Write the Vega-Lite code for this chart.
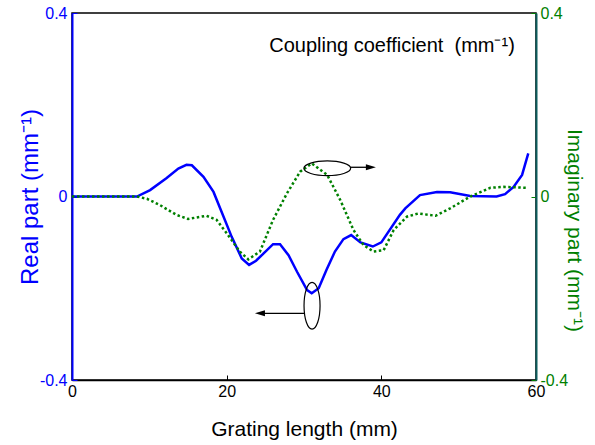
{
  "$schema": "https://vega.github.io/schema/vega-lite/v6.json",
  "width": 464,
  "height": 367,
  "autosize": "none",
  "padding": {"left": 72, "top": 13, "right": 59, "bottom": 65},
  "config": {
    "font": "Liberation Sans",
    "view": {"stroke": "black", "strokeWidth": 1.5},
    "axis": {"grid": false, "labelFont": "Liberation Sans", "titleFont": "Liberation Sans", "titleFontWeight": "normal", "labelFlush": false}
  },
  "datasets": {
    "real": [
      {"x": 0, "y": 0}, {"x": 8.4, "y": 0}, {"x": 10.1, "y": 0.014}, {"x": 12.2, "y": 0.04},
      {"x": 13.75, "y": 0.061}, {"x": 14.8, "y": 0.069}, {"x": 15.5, "y": 0.068}, {"x": 17, "y": 0.043},
      {"x": 18.3, "y": 0.01}, {"x": 19.6, "y": -0.044}, {"x": 20.65, "y": -0.088}, {"x": 21.95, "y": -0.135},
      {"x": 22.9, "y": -0.149}, {"x": 23.8, "y": -0.14}, {"x": 26, "y": -0.104}, {"x": 26.9, "y": -0.104},
      {"x": 28, "y": -0.128}, {"x": 29.1, "y": -0.164}, {"x": 30.4, "y": -0.204}, {"x": 31, "y": -0.211},
      {"x": 31.9, "y": -0.2}, {"x": 32.9, "y": -0.16}, {"x": 34, "y": -0.12}, {"x": 35.1, "y": -0.093},
      {"x": 36.1, "y": -0.084}, {"x": 37.3, "y": -0.1}, {"x": 38.9, "y": -0.109}, {"x": 40, "y": -0.1},
      {"x": 42.4, "y": -0.04}, {"x": 43.1, "y": -0.026}, {"x": 45, "y": 0.003}, {"x": 47.2, "y": 0.01},
      {"x": 48.9, "y": 0.009}, {"x": 51.5, "y": 0.001}, {"x": 54.9, "y": 0}, {"x": 56, "y": 0.005},
      {"x": 57.1, "y": 0.021}, {"x": 58.2, "y": 0.047}, {"x": 59, "y": 0.094}
    ],
    "imag": [
      {"x": 0, "y": 0}, {"x": 8.4, "y": 0}, {"x": 9.7, "y": -0.005}, {"x": 11.4, "y": -0.019},
      {"x": 13.5, "y": -0.04}, {"x": 15, "y": -0.049}, {"x": 16, "y": -0.046}, {"x": 17.4, "y": -0.042},
      {"x": 18.7, "y": -0.051}, {"x": 20, "y": -0.08}, {"x": 21.7, "y": -0.12}, {"x": 22.8, "y": -0.137},
      {"x": 24.3, "y": -0.12}, {"x": 26, "y": -0.051}, {"x": 27.8, "y": 0.007}, {"x": 29.5, "y": 0.054},
      {"x": 31, "y": 0.072}, {"x": 33, "y": 0.047}, {"x": 34.7, "y": -0.008}, {"x": 36.4, "y": -0.073},
      {"x": 37.7, "y": -0.106}, {"x": 39, "y": -0.12}, {"x": 40.3, "y": -0.117}, {"x": 41.6, "y": -0.073},
      {"x": 43.3, "y": -0.044}, {"x": 44.8, "y": -0.037}, {"x": 47, "y": -0.042}, {"x": 48.9, "y": -0.026},
      {"x": 51.5, "y": 0}, {"x": 54.1, "y": 0.019}, {"x": 55.8, "y": 0.021}, {"x": 58.8, "y": 0.019}
    ]
  },
  "encoding": {
    "x": {
      "field": "x", "type": "quantitative",
      "scale": {"domain": [0, 60], "nice": false, "zero": false},
      "axis": {
        "values": [0, 20, 40, 60], "format": "d",
        "title": "Grating length (mm)", "titleFontSize": 21, "titleColor": "black", "titlePadding": 19,
        "labelFontSize": 16, "labelColor": "black", "labelPadding": 8,
        "domainColor": "black", "domainWidth": 1.5,
        "tickColor": "black", "tickSize": -5, "tickWidth": 1
      }
    }
  },
  "layer": [
    {
      "data": {"name": "real"},
      "mark": {"type": "line", "color": "#0000ff", "strokeWidth": 2.5},
      "encoding": {
        "y": {
          "field": "y", "type": "quantitative",
          "scale": {"domain": [-0.4, 0.4], "nice": false, "zero": false},
          "axis": {
            "orient": "left", "values": [-0.4, 0, 0.4],
            "labelExpr": "datum.value === 0 ? '0' : (datum.value < 0 ? '-' : '') + format(abs(datum.value), '.1f')",
            "title": "Real part (mm⁻¹)", "titleColor": "#0000ff", "titleFontSize": 24, "titlePadding": -3,
            "labelColor": "#0000ff", "labelFontSize": 16, "labelPadding": 10,
            "domainColor": "#0000ff", "domainWidth": 2,
            "tickColor": "#0000ff", "tickSize": -5
          }
        }
      }
    },
    {
      "data": {"name": "imag"},
      "mark": {"type": "line", "color": "#008000", "strokeWidth": 2.5, "strokeDash": [2.5, 2.5]},
      "encoding": {
        "y": {
          "field": "y", "type": "quantitative",
          "scale": {"domain": [-0.4, 0.4], "nice": false, "zero": false},
          "axis": {
            "orient": "right", "values": [-0.4, 0, 0.4],
            "labelExpr": "datum.value === 0 ? '0' : (datum.value < 0 ? '-' : '') + format(abs(datum.value), '.1f')",
            "title": "Imaginary part (mm⁻¹)", "titleColor": "#008000", "titleFontSize": 21, "titlePadding": -4, "titleY": 217,
            "labelColor": "#008000", "labelFontSize": 16, "labelPadding": 9,
            "domainColor": "#0d5c5c", "domainWidth": 2,
            "tickColor": "#008000", "tickSize": -5
          }
        }
      }
    },
    {
      "data": {"values": [{"x": 33.01, "y": 0.0615}]},
      "mark": {"type": "point", "shape": "M-1,0A1,0.315,0,1,1,1,0A1,0.315,0,1,1,-1,0Z", "size": 2181, "filled": false, "stroke": "black", "strokeWidth": 1.2, "opacity": 1},
      "encoding": {"y": {"field": "y", "type": "quantitative", "scale": {"domain": [-0.4, 0.4], "nice": false, "zero": false}, "axis": null}}
    },
    {
      "data": {"values": [{"x": 31.04, "y": -0.238}]},
      "mark": {"type": "point", "shape": "M0,-1A0.343,1,0,1,1,0,1A0.343,1,0,1,1,0,-1Z", "size": 2181, "filled": false, "stroke": "black", "strokeWidth": 1.2, "opacity": 1},
      "encoding": {"y": {"field": "y", "type": "quantitative", "scale": {"domain": [-0.4, 0.4], "nice": false, "zero": false}, "axis": null}}
    },
    {
      "data": {"values": [{"x": 36.04, "x2": 38.7, "y": 0.0637}, {"x": 30.0, "x2": 24.3, "y": -0.2546}]},
      "mark": {"type": "rule", "color": "black", "strokeWidth": 1.3},
      "encoding": {
        "x2": {"field": "x2"},
        "y": {"field": "y", "type": "quantitative", "scale": {"domain": [-0.4, 0.4], "nice": false, "zero": false}, "axis": null}
      }
    },
    {
      "data": {"values": [{"x": 38.65, "y": 0.0637}]},
      "mark": {"type": "point", "shape": "M-1,-0.6L1,0L-1,0.6Z", "size": 100, "filled": true, "color": "black", "opacity": 1},
      "encoding": {"y": {"field": "y", "type": "quantitative", "scale": {"domain": [-0.4, 0.4], "nice": false, "zero": false}, "axis": null}}
    },
    {
      "data": {"values": [{"x": 24.3, "y": -0.2546}]},
      "mark": {"type": "point", "shape": "M1,-0.6L-1,0L1,0.6Z", "size": 100, "filled": true, "color": "black", "opacity": 1},
      "encoding": {"y": {"field": "y", "type": "quantitative", "scale": {"domain": [-0.4, 0.4], "nice": false, "zero": false}, "axis": null}}
    },
    {
      "data": {"values": [{"x": 25.5, "y": 0.316, "label": "Coupling coefficient \u00a0(mm⁻¹)"}]},
      "mark": {"type": "text", "align": "left", "baseline": "alphabetic", "fontSize": 20, "font": "Liberation Sans", "color": "black"},
      "encoding": {
        "text": {"field": "label"},
        "y": {"field": "y", "type": "quantitative", "scale": {"domain": [-0.4, 0.4], "nice": false, "zero": false}, "axis": null}
      }
    }
  ],
  "resolve": {"scale": {"y": "independent"}}
}
